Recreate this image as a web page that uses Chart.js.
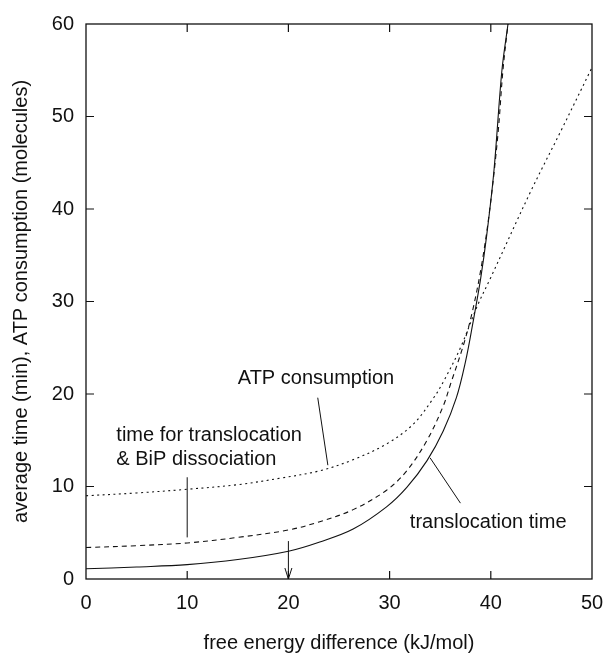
<!DOCTYPE html>
<html>
<head>
<meta charset="utf-8">
<script src="https://cdn.jsdelivr.net/npm/chart.js@4/dist/chart.umd.min.js"></script>
<style>
  html, body { margin: 0; padding: 0; background: #fff; }
  #wrap { width: 604px; height: 657px; position: relative; }
</style>
</head>
<body>
<div id="wrap"><canvas id="c"></canvas></div>
<script>
// ---- data ----
const xTicks = [0, 10, 20, 30, 40, 50];
const yTicks = [0, 10, 20, 30, 40, 50, 60];

// translocation time (solid)
const transX = [0, 5, 10, 15, 20, 23.1, 26.4, 29.7, 31.7, 33.7, 35.3, 36.6, 37.5, 38.2, 39, 39.6, 40.3, 41.1, 41.7];
const transY = [1.1, 1.3, 1.55, 2.1, 3.0, 4.0, 5.4, 7.8, 9.9, 12.8, 16.0, 19.6, 23.5, 27.5, 32.5, 37.2, 44, 55, 60];

// time for translocation & BiP dissociation (dashed)
const bipX = [0, 5, 10, 15, 20, 23.1, 26.4, 29.7, 31.7, 33.7, 35.3, 36.0, 37.3, 38.2, 39.1, 39.9, 40.7, 41.2, 41.7];
const bipY = [3.4, 3.6, 3.9, 4.5, 5.3, 6.2, 7.5, 9.6, 11.7, 15.0, 18.7, 21.0, 25.3, 29.0, 34.0, 40, 48, 55, 60];

// ATP consumption (dotted)
const atpX = [0, 5, 10, 15, 19.2, 23.1, 26.4, 29.7, 32.3, 34.3, 35.3, 37, 38.7, 40, 43.9, 47, 50];
const atpY = [9.0, 9.3, 9.7, 10.2, 10.9, 11.7, 12.9, 14.6, 16.7, 19.5, 21.3, 25.0, 29.6, 32.6, 41.8, 48.6, 55.3];

// annotation texts
const labelTexts = ["ATP consumption", "time for translocation", "& BiP dissociation", "translocation time"];
const xTitle = "free energy difference (kJ/mol)";
const yTitle = "average time (min), ATP consumption (molecules)";

const toPts = (xs, ys) => xs.map((x, i) => ({ x, y: ys[i] }));
const INK = '#111';
const FONT = "'Liberation Sans', Arial, Helvetica, sans-serif";

const framePlugin = {
  id: 'frame',
  afterDatasetsDraw(chart) {
    const { ctx, chartArea: a, scales: { x, y } } = chart;
    ctx.save();
    ctx.strokeStyle = INK;
    ctx.lineWidth = 1.3;
    ctx.strokeRect(a.left, a.top, a.right - a.left, a.bottom - a.top);
    ctx.lineWidth = 1.2;
    const L = 8;
    ctx.beginPath();
    xTicks.slice(1, -1).forEach(v => {
      const px = x.getPixelForValue(v);
      ctx.moveTo(px, a.bottom); ctx.lineTo(px, a.bottom - L);
      ctx.moveTo(px, a.top); ctx.lineTo(px, a.top + L);
    });
    yTicks.slice(1, -1).forEach(v => {
      const py = y.getPixelForValue(v);
      ctx.moveTo(a.left, py); ctx.lineTo(a.left + L, py);
      ctx.moveTo(a.right, py); ctx.lineTo(a.right - L, py);
    });
    ctx.stroke();

    // annotations
    const P = (dx, dy) => [x.getPixelForValue(dx), y.getPixelForValue(dy)];
    ctx.fillStyle = INK;
    ctx.font = "20px " + FONT;
    ctx.textBaseline = 'alphabetic';
    ctx.textAlign = 'left';
    const texts = [
      [labelTexts[0], 15.0, 21.1],
      [labelTexts[1], 3.0, 14.9],
      [labelTexts[2], 3.0, 12.3],
      [labelTexts[3], 32.0, 5.5]
    ];
    texts.forEach(([t, dx, dy]) => { const [px, py] = P(dx, dy); ctx.fillText(t, px, py); });

    ctx.lineWidth = 1;
    const seg = (a1, b1, a2, b2) => {
      const [x1, y1] = P(a1, b1), [x2, y2] = P(a2, b2);
      ctx.beginPath(); ctx.moveTo(x1, y1); ctx.lineTo(x2, y2); ctx.stroke();
    };
    seg(22.9, 19.6, 23.9, 12.3);
    seg(10, 11.0, 10, 4.5);
    seg(34.0, 13.1, 37.0, 8.2);
    // arrow at 20
    seg(20, 4.1, 20, 0);
    const [ax, ay] = P(20, 0);
    ctx.beginPath();
    ctx.moveTo(ax - 3.5, ay - 11); ctx.lineTo(ax, ay); ctx.lineTo(ax + 3.5, ay - 11);
    ctx.stroke();
    ctx.restore();
  }
};

const common = { borderColor: INK, borderWidth: 1.1, pointRadius: 0, showLine: true, fill: false, tension: 0.35 };

new Chart(document.getElementById('c'), {
  type: 'scatter',
  data: {
    datasets: [
      Object.assign({ label: 'translocation time', data: toPts(transX, transY) }, common),
      Object.assign({ label: 'time for translocation & BiP dissociation', data: toPts(bipX, bipY), borderDash: [5, 4] }, common),
      Object.assign({ label: 'ATP consumption', data: toPts(atpX, atpY), borderDash: [2, 3.5] }, common)
    ]
  },
  options: {
    responsive: true,
    maintainAspectRatio: false,
    animation: false,
    events: [],
    layout: { padding: { top: 21, right: 12, left: 0, bottom: 0 } },
    plugins: { legend: { display: false }, tooltip: { enabled: false } },
    scales: {
      x: {
        type: 'linear', min: 0, max: 50,
        afterFit: s => { s.height = 78; s.paddingRight = 0; s.paddingLeft = 0; },
        afterBuildTicks: s => { s.ticks = xTicks.map(v => ({ value: v })); },
        grid: { display: false, drawTicks: false },
        border: { display: false },
        ticks: { color: INK, font: { family: FONT, size: 20 }, padding: 12, maxRotation: 0 },
        title: { display: true, text: xTitle, color: INK, font: { family: FONT, size: 20 }, padding: { top: 0, bottom: 2 } }
      },
      y: {
        type: 'linear', min: 0, max: 60,
        afterFit: s => { s.width = 86; },
        afterBuildTicks: s => { s.ticks = yTicks.map(v => ({ value: v })); },
        grid: { display: false, drawTicks: false },
        border: { display: false },
        ticks: { color: INK, font: { family: FONT, size: 20 }, padding: 12 },
        title: { display: true, text: yTitle, color: INK, font: { family: FONT, size: 20 }, padding: { top: 9, bottom: 0 } }
      }
    }
  },
  plugins: [framePlugin]
});
</script>
</body>
</html>
